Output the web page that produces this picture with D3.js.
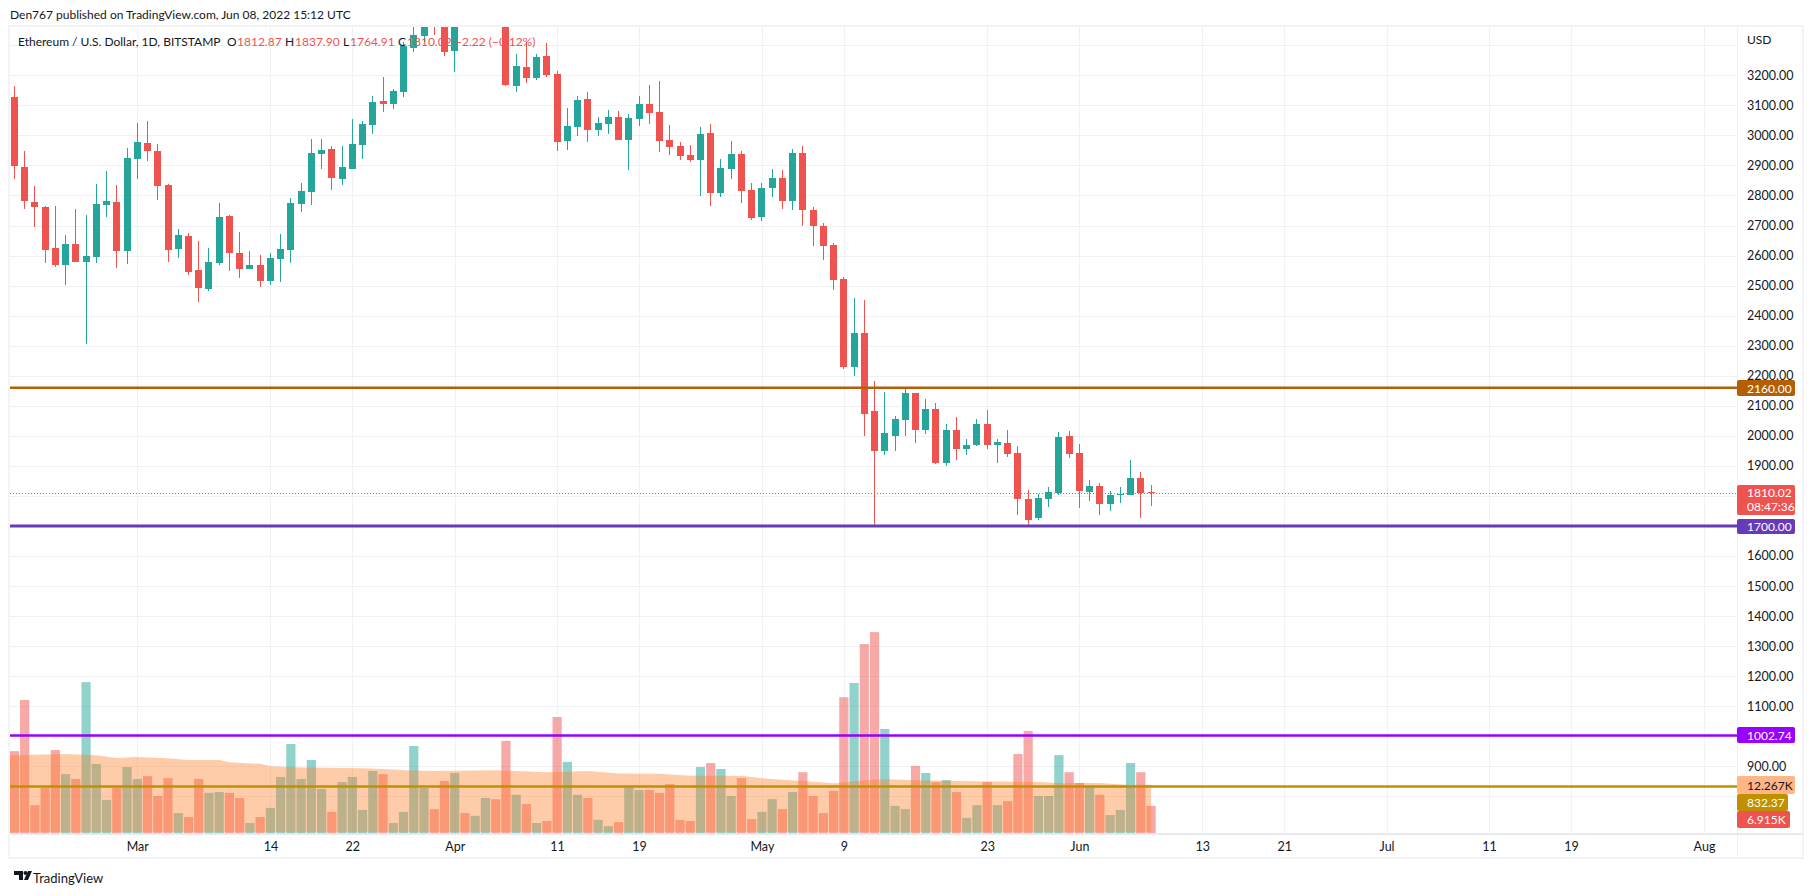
<!DOCTYPE html>
<html>
<head>
<meta charset="utf-8">
<script src="https://cdn.jsdelivr.net/npm/d3@7"></script>
<style>
	html, body { margin:0; padding:0; background:#fff; }
	svg { display:block; }
	text { font-family:Lato, "Noto Sans", sans-serif; }
	.axis path, .axis line { display:none; }
	.axis text { fill:#131722; font-size:12.5px; font-family:Lato, "Noto Sans", sans-serif; }
</style>
</head>
<body>
<svg id="chart" width="1815" height="896"></svg>
<script>
// one value per day starting Feb 17 2022
var opens = [3128,2895,2778,2761,2625,2568,2638,2578,2595,2768,2778,2615,2921,2975,2948,2835,2622,2665,2552,2488,
	2575,2732,2608,2555,2569,2515,2588,2618,2772,2812,2938,2955,2855,2888,2968,3035,3115,3105,3144,3291,
	3331,3405,3385,3281,3450,3445,3525,3520,3410,3164,3228,3191,3264,3204,2981,3028,3121,3018,3038,3061,
	2985,3055,3105,3078,2985,2965,2935,2918,3008,2808,2888,2938,2818,2727,2826,2858,2780,2943,2750,2698,
	2634,2521,2228,2341,2081,1948,2001,2051,2144,2018,2088,1908,2018,1955,1971,2038,1968,1975,1944,1791,
	1728,1791,1811,2001,1944,1814,1834,1774,1804,1804,1861,1812.87];
var highs = [3164,2948,2831,2765,2765,2668,2755,2735,2838,2881,2835,2958,3041,3048,2971,2838,2688,2675,2648,2625,
	2775,2735,2678,2615,2602,2609,2672,2792,2842,2988,2988,2965,2965,3055,3048,3131,3195,3155,3310,3480,
	3485,3440,3440,3470,3530,3580,3545,3555,3445,3271,3311,3271,3308,3214,3091,3131,3145,3061,3085,3081,
	3071,3131,3168,3181,3035,2978,2968,3028,3038,2921,2981,2948,2841,2840,2888,2885,2955,2965,2760,2710,
	2641,2527,2458,2451,2181,2145,2065,2158,2144,2121,2108,2038,2061,1988,2055,2085,1991,2018,1967,1821,
	1808,1828,2014,2017,1974,1854,1844,1818,1831,1921,1878,1837.90];
var lows = [2855,2755,2695,2575,2562,2502,2578,2305,2575,2728,2558,2572,2855,2915,2785,2578,2592,2535,2445,2482,
	2568,2548,2525,2555,2495,2502,2512,2575,2745,2768,2888,2818,2835,2888,2921,3005,3078,3088,3128,3278,
	3310,3334,3265,3211,3420,3420,3405,3400,3165,3145,3174,3185,3194,2948,2951,2998,2978,2998,3005,2985,
	2885,3031,3038,2945,2935,2918,2911,2798,2765,2795,2855,2775,2718,2715,2795,2755,2752,2700,2631,2584,
	2484,2221,2198,1998,1704,1935,1948,1998,1975,2005,1905,1901,1921,1935,1965,1955,1911,1931,1738,1703,
	1721,1764,1804,1927,1761,1784,1738,1751,1778,1804,1728,1764.91];
var closes = [2898,2781,2761,2618,2568,2638,2578,2598,2771,2781,2615,2925,2978,2948,2831,2618,2668,2545,2492,2578,
	2728,2608,2555,2568,2515,2592,2622,2775,2815,2941,2951,2858,2895,2971,3038,3111,3105,3148,3299,3334,
	3400,3385,3278,3450,3445,3525,3530,3410,3168,3231,3191,3261,3201,2978,3031,3118,3018,3041,3061,2985,
	3058,3105,3075,2981,2961,2931,2918,3005,2808,2891,2938,2815,2725,2826,2858,2780,2943,2750,2700,2631,
	2518,2228,2341,2071,1948,2008,2055,2141,2018,2088,1908,2018,1955,1971,2041,1968,1978,1938,1791,1721,
	1794,1814,1997,1941,1818,1834,1774,1804,1808,1861,1811,1810.02];
// volume in thousands
var volumes = [20.7,33.6,7.1,11.4,21,14.9,13.7,38.1,17.5,8.4,11.4,16.7,13.7,14.4,9.4,13.9,5.1,4.1,13.7,10.2,
	10.4,10.2,8.9,2.6,4.1,6.4,14.2,22.5,13.7,18.5,11.2,5.4,12.9,14.2,5.9,15.7,14.9,2.6,5.4,22,
	11.4,6.1,13.2,15.2,5.1,4.4,8.9,8.6,23.3,9.7,7.4,2.6,3.1,29.3,18,9.7,8.9,3.4,1.8,2.8,
	11.9,10.9,10.9,10.2,12.4,3.4,3.1,16.7,17.7,16.2,9.4,13.9,3.6,5.4,8.6,6.1,10.4,15.4,9.4,5.1,
	10.7,34.3,37.9,47.7,50.7,26.3,6.9,6.1,17,15.2,12.9,13.4,10.4,3.9,7.1,12.9,7.1,8.1,20,25.8,
	9.4,9.4,19.7,15.4,12.7,11.9,9.7,4.6,5.9,17.7,15.4,6.915];
// volume average, read at the days where its slope changes
var maDays = [-1,0,5,8,10,12,15,17,20,21,24,25,28,30,34,37,38,41,47,52,56,59,63,66,71,73,75,77,80,83,85,88,92,100,102,106,109,111];
var maValues = [19.7,19.7,20,19.7,19,19.2,18.9,18.5,18.5,17.9,17.5,16.9,16.6,16.5,16.4,16.1,15.9,15.7,15.9,15.4,15.7,15.1,15,14.5,14.5,13.9,13.5,13.2,12.6,13.4,13.6,13.4,13.2,12.9,12.7,12.7,12.2,12.267];

var priceTicks = [3200,3100,3000,2900,2800,2700,2600,2500,2400,2300,2200,2100,2000,1900,1800,1700,1600,1500,1400,1300,1200,1100,1000,900,800];
var dateTicks = ["2022-03-01","2022-03-14","2022-03-22","2022-04-01","2022-04-11","2022-04-19","2022-05-01","2022-05-09","2022-05-23","2022-06-01","2022-06-13","2022-06-21","2022-07-01","2022-07-11","2022-07-19","2022-08-01"];
var dateLabels = ["Mar","14","22","Apr","11","19","May","9","23","Jun","13","21","Jul","11","19","Aug"];

var UP = "#26a69a", DOWN = "#ef5350";
var paneLeft = 10, paneRight = 1737, paneTop = 27, paneBottom = 833.3;

var svg = d3.select("#chart");
var parse = d3.utcParse("%Y-%m-%d");
var start = parse("2022-02-17");
var days = opens.map(function(d, i) { return d3.utcDay.offset(start, i); });

var x = d3.scaleUtc().domain([start, parse("2022-08-01")]).range([14.4, 1704]);
var y = d3.scaleLinear().domain([3200, 900]).range([75.3, 766.3]);
var yVol = d3.scaleLinear().domain([0, 50]).range([paneBottom, paneBottom - 198.4]);

function xd(i) { return x(d3.utcDay.offset(start, i)); }
function px(v) { return Math.round(v) + 0.5; }

// frame
svg.append("rect").attr("x", 9).attr("y", 26).attr("width", 1794).attr("height", 832)
	.attr("fill", "none").attr("stroke", "#eff1f6").attr("stroke-width", 1.5);
svg.append("line").attr("x1", paneRight+.5).attr("x2", paneRight+.5).attr("y1", paneTop).attr("y2", 858).attr("stroke", "#eff1f6");
svg.append("line").attr("x1", paneLeft).attr("x2", 1803).attr("y1", 834).attr("y2", 834).attr("stroke", "#e0e3eb").attr("stroke-width", 1.5);

svg.append("defs").append("clipPath").attr("id", "pane").append("rect")
	.attr("x", paneLeft).attr("y", paneTop).attr("width", paneRight-paneLeft).attr("height", paneBottom-paneTop);

var pane = svg.append("g").attr("clip-path", "url(#pane)");

// grid
pane.selectAll(".vgrid").data(dateTicks).enter().append("line")
	.attr("x1", function(d) { return px(x(parse(d))); })
	.attr("x2", function(d) { return px(x(parse(d))); })
	.attr("y1", paneTop).attr("y2", paneBottom).attr("stroke", "#f0f1f5").attr("shape-rendering", "crispEdges");
pane.selectAll(".hgrid").data([3300].concat(priceTicks)).enter().append("line")
	.attr("x1", paneLeft).attr("x2", paneRight)
	.attr("y1", function(d) { return px(y(d)); })
	.attr("y2", function(d) { return px(y(d)); })
	.attr("stroke", "#f0f1f5").attr("shape-rendering", "crispEdges");

// legend sits under the candles
var legend = svg.append("g").attr("font-size", 12);
legend.append("text").attr("x", 18).attr("y", 46).attr("fill", "#131722").text("Ethereum / U.S. Dollar, 1D, BITSTAMP");
var legendBits = [["O",227,"#131722"],["1812.87",237,DOWN],["H",285,"#131722"],["1837.90",295,DOWN],["L",343,"#131722"],["1764.91",350,DOWN],["C",398,"#131722"],["1810.02",407,DOWN],["\u22122.22 (\u22120.12%)",455,DOWN]];
legend.selectAll(".bit").data(legendBits).enter().append("text")
	.attr("x", function(d) { return d[1]; })
	.attr("y", 46)
	.attr("fill", function(d) { return d[2]; })
	.text(function(d) { return d[0]; });

// volume
pane.selectAll(".vol").data(days).enter().append("rect")
	.attr("x", function(d) { return x(d) - 4.6; })
	.attr("width", 9.2)
	.attr("y", function(d, i) { return yVol(volumes[i]); })
	.attr("height", function(d, i) { return paneBottom - yVol(volumes[i]); })
	.attr("fill", function(d, i) { return closes[i] >= opens[i] ? UP : DOWN; })
	.attr("opacity", 0.5);

var maArea = d3.area()
	.x(function(d) { return xd(d); })
	.y0(paneBottom - 1)
	.y1(function(d, i) { return yVol(maValues[i]); });
pane.append("path").datum(maDays).attr("d", maArea).attr("fill", "#ff7f2a").attr("opacity", 0.4);

// last price
pane.append("line").attr("x1", paneLeft).attr("x2", paneRight)
	.attr("y1", px(y(closes[closes.length-1]))).attr("y2", px(y(closes[closes.length-1])))
	.attr("stroke", DOWN).attr("stroke-dasharray", "1 2").attr("shape-rendering", "crispEdges");

// candles
var candles = pane.selectAll(".candle").data(days).enter().append("g").attr("shape-rendering", "crispEdges");
candles.append("rect")
	.attr("x", function(d) { return Math.round(x(d) - 0.5); })
	.attr("width", 1)
	.attr("y", function(d, i) { return y(highs[i]); })
	.attr("height", function(d, i) { return y(lows[i]) - y(highs[i]); })
	.attr("fill", function(d, i) { return closes[i] >= opens[i] ? UP : DOWN; });
candles.append("rect")
	.attr("x", function(d) { return Math.round(x(d) - 3.5); })
	.attr("width", 7)
	.attr("y", function(d, i) { return y(Math.max(opens[i], closes[i])); })
	.attr("height", function(d, i) { return Math.max(1, Math.abs(y(opens[i]) - y(closes[i]))); })
	.attr("fill", function(d, i) { return closes[i] >= opens[i] ? UP : DOWN; });

// drawn levels
var levelValues = [2160, 1700, 1002.74, 832.37];
var levelColors = ["#b45f06", "#673ab7", "#9900ff", "#bf9000"];
var levelWidths = [2.5, 3, 2.5, 2.5];
pane.selectAll(".level").data(levelValues).enter().append("line")
	.attr("x1", paneLeft).attr("x2", paneRight)
	.attr("y1", function(d) { return y(d); })
	.attr("y2", function(d) { return y(d); })
	.attr("stroke", function(d, i) { return levelColors[i]; })
	.attr("stroke-width", function(d, i) { return levelWidths[i]; });

// axes
var yAxis = d3.axisRight(y).tickValues(priceTicks.filter(function(d) { return [1800,1700,1000,800].indexOf(d) < 0; }))
	.tickSize(0).tickPadding(0).tickFormat(d3.format(".2f"));
svg.append("g").attr("class", "axis").attr("transform", "translate(1747,0)").call(yAxis);
var xAxis = d3.axisBottom(x).tickValues(dateTicks.map(parse)).tickSize(0).tickPadding(0)
	.tickFormat(function(d, i) { return dateLabels[i]; });
svg.append("g").attr("class", "axis").attr("transform", "translate(0,842)").call(xAxis);
svg.append("text").attr("x", 1747).attr("y", 44).attr("font-size", 12).attr("fill", "#131722").text("USD");

// scale labels
var boxes = [
	{ t:["2160.00"], yy:380, h:16, w:58, fill:"#b45f06", c:"#fff" },
	{ t:["1810.02","08:47:36"], yy:485, h:30, w:58, fill:DOWN, c:"#fff" },
	{ t:["1700.00"], yy:519, h:15, w:58, fill:"#673ab7", c:"#fff" },
	{ t:["1002.74"], yy:727, h:16, w:58, fill:"#9900ff", c:"#fff" },
	{ t:["12.267K"], yy:776, h:18, w:58, fill:"#ffb585", c:"#131722" },
	{ t:["832.37"], yy:794, h:17, w:51, fill:"#bf9000", c:"#fff" },
	{ t:["6.915K"], yy:811, h:17, w:53, fill:DOWN, c:"#fff" }
];
var box = svg.selectAll(".box").data(boxes).enter().append("g");
box.append("rect")
	.attr("x", paneRight).attr("y", function(d) { return d.yy; })
	.attr("width", function(d) { return d.w; }).attr("height", function(d) { return d.h; })
	.attr("rx", 2).attr("fill", function(d) { return d.fill; });
box.each(function(d) {
	var g = d3.select(this);
	d.t.forEach(function(s, k) {
		g.append("text").attr("x", paneRight + 10)
			.attr("y", d.yy + (d.t.length > 1 ? 12 + k*14 : d.h/2 + 4.5))
			.attr("font-size", 12).attr("fill", d.c).text(s);
	});
});

// header and footer
svg.append("text").attr("x", 10).attr("y", 19).attr("font-size", 12).attr("fill", "#131722")
	.text("Den767 published on TradingView.com, Jun 08, 2022 15:12 UTC");
var logo = svg.append("g").attr("transform", "translate(14,871)").attr("fill", "#131722");
logo.append("path").attr("d", "M0 0h9v9h-4v-5h-5z");
logo.append("circle").attr("cx", 11.5).attr("cy", 2).attr("r", 2);
logo.append("path").attr("d", "M14 0h4l-4 9h-4z");
svg.append("text").attr("x", 33).attr("y", 883).attr("font-size", 13).attr("fill", "#131722").text("TradingView");
</script>
</body>
</html>
